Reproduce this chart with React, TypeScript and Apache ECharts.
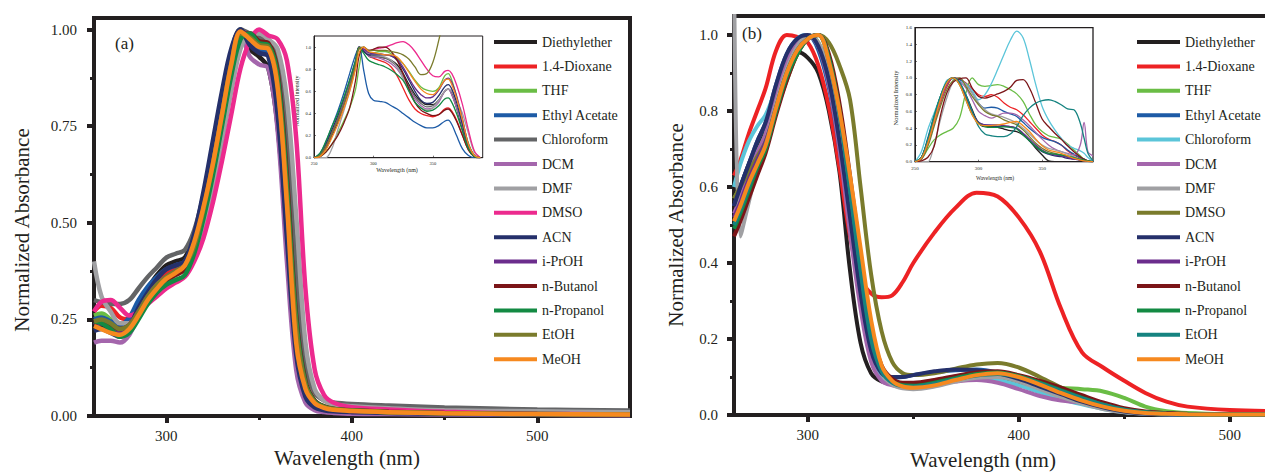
import React, { useEffect, useRef } from 'react';
import * as echarts from 'echarts';

const INK = '#231f20';
const SERIF = '"Liberation Serif", "Times New Roman", serif';

const SOLVENTS = ['Diethylether', '1.4-Dioxane', 'THF', 'Ethyl Acetate', 'Chloroform', 'DCM', 'DMF', 'DMSO', 'ACN', 'i-PrOH', 'n-Butanol', 'n-Propanol', 'EtOH', 'MeOH'];
const COLORS_A = ['#231f20', '#ed2224', '#6abd45', '#1d5ba6', '#636466', '#a466ac', '#a0a0a3', '#ec2a8e', '#25306b', '#6b2d8c', '#7b1518', '#138a43', '#7a7b2c', '#f6891f'];
const COLORS_B = ['#231f20', '#ed2224', '#6abd45', '#1d5ba6', '#5bc5d9', '#a466ac', '#a0a0a3', '#7a7b2c', '#25306b', '#6b2d8c', '#7b1518', '#138a43', '#158380', '#f6891f'];

// Panel (a) main: wavelength (nm)
const X_A = [261, 265, 270, 275, 280, 285, 290, 295, 300, 305, 310, 315, 320, 325, 330, 335, 340, 345, 350, 355, 360, 365, 370, 375, 380, 385, 390, 400, 420, 450, 500, 550];
const A_DIETHYLETHER = [0.235, 0.235, 0.225, 0.22, 0.24, 0.29, 0.33, 0.365, 0.39, 0.40, 0.41, 0.47, 0.57, 0.69, 0.82, 0.94, 1.0, 0.95, 0.93, 0.90, 0.75, 0.45, 0.16, 0.05, 0.025, 0.018, 0.015, 0.012, 0.009, 0.006, 0.004, 0.003];
const A_DIOXANE = [0.27, 0.285, 0.28, 0.255, 0.25, 0.28, 0.32, 0.345, 0.37, 0.385, 0.395, 0.44, 0.53, 0.65, 0.78, 0.91, 0.99, 0.98, 0.96, 0.955, 0.87, 0.58, 0.24, 0.08, 0.035, 0.022, 0.017, 0.013, 0.01, 0.007, 0.005, 0.004];
const A_THF = [0.26, 0.265, 0.25, 0.23, 0.235, 0.265, 0.30, 0.33, 0.35, 0.365, 0.38, 0.43, 0.52, 0.63, 0.76, 0.89, 0.98, 0.99, 0.965, 0.96, 0.88, 0.60, 0.25, 0.085, 0.04, 0.025, 0.02, 0.015, 0.011, 0.008, 0.005, 0.004];
const A_ETHYLACETATE = [0.25, 0.255, 0.245, 0.235, 0.255, 0.30, 0.335, 0.36, 0.38, 0.39, 0.40, 0.46, 0.56, 0.68, 0.81, 0.93, 1.0, 0.97, 0.95, 0.94, 0.80, 0.49, 0.18, 0.06, 0.028, 0.019, 0.015, 0.012, 0.009, 0.006, 0.004, 0.003];
const A_CHLOROFORM = [0.30, 0.295, 0.29, 0.29, 0.30, 0.33, 0.36, 0.385, 0.41, 0.42, 0.43, 0.48, 0.57, 0.69, 0.82, 0.94, 1.0, 0.99, 0.98, 0.97, 0.92, 0.72, 0.38, 0.13, 0.06, 0.04, 0.035, 0.031, 0.027, 0.022, 0.017, 0.014];
const A_DCM = [0.19, 0.195, 0.195, 0.19, 0.21, 0.26, 0.30, 0.33, 0.355, 0.37, 0.385, 0.44, 0.54, 0.66, 0.79, 0.92, 0.99, 0.93, 0.91, 0.90, 0.74, 0.40, 0.12, 0.035, 0.015, 0.01, 0.008, 0.006, 0.005, 0.004, 0.003, 0.002];
const A_DMF = [0.40, 0.31, 0.27, 0.24, 0.24, 0.27, 0.30, 0.33, 0.35, 0.365, 0.38, 0.42, 0.49, 0.59, 0.71, 0.84, 0.95, 0.99, 0.99, 0.975, 0.95, 0.82, 0.52, 0.19, 0.07, 0.04, 0.03, 0.025, 0.02, 0.015, 0.012, 0.01];
const A_DMSO = [0.27, 0.295, 0.30, 0.28, 0.26, 0.27, 0.29, 0.31, 0.33, 0.345, 0.36, 0.40, 0.46, 0.55, 0.66, 0.78, 0.90, 0.97, 1.0, 0.985, 0.975, 0.92, 0.72, 0.33, 0.12, 0.055, 0.035, 0.023, 0.017, 0.011, 0.006, 0.004];
const A_ACN = [0.22, 0.225, 0.215, 0.205, 0.23, 0.28, 0.32, 0.355, 0.38, 0.39, 0.40, 0.47, 0.58, 0.71, 0.84, 0.95, 1.0, 0.96, 0.94, 0.93, 0.78, 0.46, 0.16, 0.05, 0.022, 0.015, 0.012, 0.01, 0.008, 0.005, 0.004, 0.003];
const A_IPROH = [0.235, 0.24, 0.23, 0.22, 0.235, 0.27, 0.31, 0.34, 0.36, 0.375, 0.39, 0.44, 0.53, 0.645, 0.775, 0.905, 0.99, 0.985, 0.96, 0.955, 0.86, 0.56, 0.22, 0.075, 0.035, 0.022, 0.017, 0.013, 0.01, 0.007, 0.005, 0.004];
const A_NBUTANOL = [0.24, 0.245, 0.235, 0.225, 0.235, 0.265, 0.30, 0.33, 0.35, 0.365, 0.38, 0.43, 0.52, 0.63, 0.76, 0.89, 0.98, 0.99, 0.97, 0.965, 0.89, 0.62, 0.26, 0.09, 0.04, 0.025, 0.019, 0.015, 0.011, 0.008, 0.005, 0.004];
const A_NPROPANOL = [0.245, 0.24, 0.225, 0.205, 0.215, 0.25, 0.29, 0.32, 0.34, 0.352, 0.365, 0.42, 0.51, 0.62, 0.75, 0.88, 0.975, 0.99, 0.965, 0.96, 0.88, 0.60, 0.25, 0.085, 0.038, 0.024, 0.018, 0.014, 0.01, 0.007, 0.005, 0.004];
const A_ETOH = [0.245, 0.25, 0.24, 0.225, 0.235, 0.27, 0.31, 0.34, 0.36, 0.375, 0.39, 0.44, 0.535, 0.65, 0.78, 0.91, 0.99, 0.98, 0.96, 0.955, 0.86, 0.57, 0.23, 0.08, 0.036, 0.023, 0.018, 0.014, 0.01, 0.007, 0.005, 0.004];
const A_MEOH = [0.233, 0.225, 0.215, 0.21, 0.225, 0.26, 0.30, 0.33, 0.355, 0.37, 0.39, 0.45, 0.54, 0.65, 0.78, 0.91, 0.995, 0.975, 0.955, 0.95, 0.85, 0.55, 0.19, 0.07, 0.033, 0.021, 0.016, 0.013, 0.01, 0.007, 0.005, 0.004];

// Panel (b) main
const X_B = [265, 268, 272, 276, 280, 285, 290, 295, 300, 305, 310, 315, 320, 325, 330, 335, 340, 345, 350, 360, 370, 380, 390, 400, 410, 420, 430, 440, 450, 460, 470, 480, 500, 530];
const B_DIETHYLETHER = [0.55, 0.6, 0.66, 0.71, 0.76, 0.85, 0.92, 0.955, 0.94, 0.9, 0.8, 0.64, 0.38, 0.19, 0.11, 0.088, 0.082, 0.08, 0.082, 0.09, 0.098, 0.1, 0.095, 0.08, 0.062, 0.045, 0.03, 0.018, 0.008, 0.004, 0.002, 0.001, 0.001, 0];
const B_DIOXANE = [0.63, 0.67, 0.74, 0.8, 0.86, 0.96, 1.0, 0.995, 0.98, 0.92, 0.81, 0.65, 0.47, 0.36, 0.32, 0.31, 0.315, 0.35, 0.4, 0.48, 0.545, 0.585, 0.575, 0.52, 0.43, 0.28, 0.165, 0.125, 0.09, 0.058, 0.035, 0.022, 0.013, 0.01];
const B_THF = [0.57, 0.6, 0.64, 0.69, 0.74, 0.83, 0.91, 0.97, 1.0, 0.98, 0.9, 0.74, 0.56, 0.36, 0.2, 0.12, 0.09, 0.08, 0.08, 0.085, 0.095, 0.1, 0.1, 0.09, 0.08, 0.072, 0.068, 0.062, 0.045, 0.022, 0.01, 0.005, 0.002, 0.001];
const B_ETHYLACETATE = [0.55, 0.6, 0.66, 0.72, 0.77, 0.87, 0.95, 0.99, 1.0, 0.96, 0.86, 0.7, 0.5, 0.31, 0.17, 0.11, 0.098, 0.1, 0.105, 0.112, 0.118, 0.12, 0.112, 0.095, 0.072, 0.05, 0.032, 0.018, 0.008, 0.004, 0.002, 0.001, 0.001, 0];
const B_CHLOROFORM = [0.6, 0.66, 0.72, 0.76, 0.79, 0.86, 0.94, 0.99, 1.0, 0.97, 0.88, 0.72, 0.52, 0.32, 0.17, 0.1, 0.085, 0.082, 0.082, 0.088, 0.095, 0.098, 0.092, 0.078, 0.06, 0.042, 0.028, 0.016, 0.008, 0.004, 0.002, 0.001, 0.001, 0];
const B_DCM = [0.53, 0.57, 0.63, 0.69, 0.74, 0.84, 0.93, 0.98, 1.0, 0.97, 0.87, 0.7, 0.48, 0.28, 0.14, 0.09, 0.078, 0.075, 0.075, 0.08, 0.088, 0.092, 0.085, 0.068, 0.05, 0.038, 0.032, 0.02, 0.01, 0.005, 0.003, 0.002, 0.001, 0.001];
const B_DMF = [1.2, 0.47, 0.56, 0.65, 0.72, 0.82, 0.91, 0.97, 1.0, 0.98, 0.91, 0.76, 0.57, 0.37, 0.2, 0.11, 0.08, 0.07, 0.068, 0.075, 0.088, 0.098, 0.1, 0.088, 0.068, 0.048, 0.03, 0.016, 0.007, 0.003, 0.002, 0.001, 0.001, 0];
const B_DMSO = [0.57, 0.6, 0.64, 0.68, 0.72, 0.8, 0.88, 0.95, 0.99, 1.0, 0.98, 0.92, 0.83, 0.6, 0.37, 0.22, 0.14, 0.11, 0.105, 0.11, 0.122, 0.133, 0.137, 0.125, 0.1, 0.072, 0.045, 0.024, 0.011, 0.005, 0.003, 0.002, 0.001, 0.001];
const B_ACN = [0.55, 0.6, 0.66, 0.72, 0.77, 0.87, 0.95, 0.99, 1.0, 0.97, 0.88, 0.72, 0.52, 0.32, 0.17, 0.11, 0.1, 0.1, 0.105, 0.115, 0.12, 0.118, 0.11, 0.095, 0.075, 0.055, 0.035, 0.02, 0.009, 0.004, 0.002, 0.001, 0.001, 0];
const B_IPROH = [0.52, 0.56, 0.62, 0.67, 0.72, 0.81, 0.9, 0.96, 0.99, 1.0, 0.94, 0.8, 0.6, 0.39, 0.21, 0.12, 0.09, 0.082, 0.082, 0.09, 0.1, 0.11, 0.112, 0.102, 0.085, 0.066, 0.046, 0.028, 0.015, 0.008, 0.004, 0.002, 0.001, 0.001];
const B_NBUTANOL = [0.47, 0.51, 0.57, 0.63, 0.69, 0.79, 0.88, 0.95, 0.99, 1.0, 0.95, 0.82, 0.63, 0.42, 0.23, 0.13, 0.095, 0.085, 0.085, 0.092, 0.103, 0.112, 0.115, 0.105, 0.09, 0.072, 0.052, 0.033, 0.018, 0.009, 0.005, 0.003, 0.002, 0.001];
const B_NPROPANOL = [0.49, 0.53, 0.59, 0.65, 0.7, 0.8, 0.89, 0.95, 0.99, 1.0, 0.94, 0.8, 0.6, 0.39, 0.21, 0.12, 0.088, 0.078, 0.077, 0.085, 0.097, 0.108, 0.112, 0.102, 0.085, 0.065, 0.045, 0.027, 0.014, 0.007, 0.003, 0.002, 0.001, 0.001];
const B_ETOH = [0.5, 0.54, 0.6, 0.66, 0.71, 0.81, 0.9, 0.96, 0.99, 1.0, 0.93, 0.79, 0.59, 0.38, 0.2, 0.115, 0.085, 0.076, 0.075, 0.082, 0.094, 0.104, 0.108, 0.1, 0.083, 0.063, 0.044, 0.027, 0.014, 0.007, 0.003, 0.002, 0.001, 0.001];
const B_MEOH = [0.51, 0.55, 0.61, 0.66, 0.71, 0.81, 0.9, 0.96, 0.99, 1.0, 0.93, 0.8, 0.63, 0.44, 0.25, 0.13, 0.09, 0.075, 0.072, 0.078, 0.092, 0.105, 0.11, 0.1, 0.08, 0.058, 0.038, 0.022, 0.011, 0.005, 0.003, 0.002, 0.001, 0.001];

// Inset (a): normalized intensity
const X_IA = [250, 255, 260, 265, 270, 275, 280, 285, 288, 292, 296, 300, 305, 310, 315, 320, 325, 330, 335, 340, 345, 350, 355, 360, 363, 366, 370, 375, 380, 385, 390];
const IA_DIETHYLETHER = [0, 0.01, 0.08, 0.2, 0.32, 0.47, 0.65, 0.85, 1.0, 0.96, 0.93, 0.92, 0.91, 0.9, 0.88, 0.84, 0.76, 0.66, 0.57, 0.51, 0.48, 0.48, 0.52, 0.6, 0.62, 0.58, 0.45, 0.25, 0.08, 0.01, 0];
const IA_DIOXANE = [0, 0.02, 0.1, 0.22, 0.34, 0.48, 0.64, 0.83, 0.99, 0.97, 0.92, 0.9, 0.88, 0.86, 0.82, 0.74, 0.63, 0.52, 0.44, 0.4, 0.38, 0.37, 0.39, 0.44, 0.45, 0.42, 0.34, 0.2, 0.07, 0.01, 0];
const IA_THF = [0, 0.01, 0.05, 0.12, 0.22, 0.33, 0.45, 0.62, 0.82, 1.0, 0.96, 0.95, 0.96, 0.96, 0.94, 0.9, 0.85, 0.78, 0.7, 0.64, 0.61, 0.6, 0.63, 0.74, 0.76, 0.7, 0.55, 0.33, 0.13, 0.02, 0];
const IA_ETHYLACETATE = [0, 0.04, 0.14, 0.28, 0.42, 0.58, 0.76, 0.93, 1.0, 0.78, 0.58, 0.52, 0.51, 0.5, 0.47, 0.44, 0.4, 0.36, 0.32, 0.29, 0.27, 0.27, 0.29, 0.33, 0.34, 0.3, 0.2, 0.08, 0.02, 0, 0];
const IA_CHLOROFORM = [0, 0.02, 0.1, 0.22, 0.35, 0.5, 0.66, 0.85, 1.0, 0.97, 0.92, 0.91, 0.91, 0.9, 0.87, 0.82, 0.74, 0.64, 0.55, 0.49, 0.46, 0.47, 0.52, 0.6, 0.62, 0.57, 0.46, 0.3, 0.12, 0.02, 0];
const IA_DCM = [0, 0.02, 0.1, 0.22, 0.35, 0.5, 0.66, 0.85, 1.0, 0.97, 0.92, 0.91, 0.9, 0.88, 0.85, 0.8, 0.72, 0.62, 0.53, 0.47, 0.44, 0.45, 0.5, 0.6, 0.62, 0.57, 0.45, 0.28, 0.1, 0.02, 0];
const IA_DMF = [0, 0, 0, 0.08, 0.25, 0.42, 0.6, 0.82, 0.98, 0.98, 0.94, 0.92, 0.92, 0.91, 0.88, 0.82, 0.72, 0.6, 0.5, 0.45, 0.43, 0.45, 0.52, 0.6, 0.62, 0.6, 0.52, 0.4, 0.22, 0.05, 0];
const IA_DMSO = [0, 0.02, 0.1, 0.22, 0.34, 0.48, 0.64, 0.84, 1.0, 0.98, 0.97, 0.98, 0.99, 1.0, 1.02, 1.04, 1.05, 1.02, 0.96, 0.88, 0.8, 0.74, 0.73, 0.78, 0.79, 0.76, 0.66, 0.48, 0.25, 0.06, 0];
const IA_ACN = [0, 0.02, 0.12, 0.25, 0.38, 0.53, 0.7, 0.88, 1.0, 0.96, 0.93, 0.93, 0.93, 0.93, 0.92, 0.88, 0.8, 0.7, 0.6, 0.52, 0.49, 0.5, 0.56, 0.64, 0.66, 0.62, 0.5, 0.3, 0.1, 0.01, 0];
const IA_IPROH = [0, 0.02, 0.1, 0.22, 0.34, 0.48, 0.64, 0.84, 1.0, 0.98, 0.95, 0.94, 0.94, 0.93, 0.92, 0.89, 0.82, 0.72, 0.63, 0.57, 0.54, 0.55, 0.61, 0.7, 0.72, 0.68, 0.56, 0.35, 0.12, 0.02, 0];
const IA_NBUTANOL = [0, 0.01, 0.05, 0.12, 0.2, 0.31, 0.45, 0.7, 0.92, 1.0, 0.97, 0.98, 1.0, 1.0, 0.96, 0.88, 0.76, 0.62, 0.5, 0.43, 0.4, 0.38, 0.39, 0.43, 0.44, 0.41, 0.33, 0.2, 0.07, 0.01, 0];
const IA_NPROPANOL = [0, 0.04, 0.15, 0.28, 0.4, 0.54, 0.7, 0.88, 1.0, 0.94, 0.88, 0.86, 0.84, 0.82, 0.79, 0.75, 0.7, 0.6, 0.5, 0.45, 0.42, 0.43, 0.47, 0.53, 0.54, 0.5, 0.4, 0.24, 0.08, 0.01, 0];
const IA_ETOH = [0, 0.02, 0.1, 0.22, 0.34, 0.48, 0.64, 0.84, 0.99, 1.0, 0.97, 0.97, 0.97, 0.97, 0.96, 0.95, 0.93, 0.89, 0.82, 0.75, 0.76, 0.86, 1.06, 1.3, 1.45, 1.6, 1.8, 2.0, 2.2, 2.4, 2.6];
const IA_MEOH = [0, 0.01, 0.07, 0.18, 0.3, 0.44, 0.6, 0.8, 0.95, 1.0, 0.96, 0.95, 0.94, 0.93, 0.93, 0.91, 0.85, 0.77, 0.69, 0.62, 0.58, 0.57, 0.62, 0.7, 0.71, 0.66, 0.54, 0.34, 0.12, 0.02, 0];

// Inset (b)
const X_IB = [250, 255, 260, 265, 270, 275, 280, 285, 290, 295, 300, 305, 310, 315, 320, 325, 330, 335, 340, 345, 350, 355, 360, 365, 370, 375, 380, 383, 386, 390];
const IB_DIETHYLETHER = [0, 0.05, 0.25, 0.5, 0.72, 0.9, 1.0, 0.93, 0.8, 0.62, 0.46, 0.42, 0.42, 0.41, 0.39, 0.37, 0.36, 0.32, 0.25, 0.16, 0.08, 0.01, 0, 0, 0, 0, 0, 0, 0, 0];
const IB_DIOXANE = [0, 0.04, 0.22, 0.46, 0.7, 0.9, 1.0, 0.99, 0.94, 0.87, 0.8, 0.78, 0.8, 0.77, 0.7, 0.65, 0.62, 0.56, 0.48, 0.4, 0.32, 0.27, 0.24, 0.2, 0.13, 0.08, 0.04, 0.02, 0.01, 0];
const IB_THF = [0, 0.03, 0.15, 0.26, 0.32, 0.36, 0.4, 0.52, 0.82, 1.0, 0.92, 0.9, 0.91, 0.92, 0.9, 0.86, 0.81, 0.72, 0.57, 0.44, 0.36, 0.31, 0.29, 0.27, 0.21, 0.14, 0.07, 0.03, 0.01, 0];
const IB_ETHYLACETATE = [0, 0.05, 0.28, 0.55, 0.78, 0.95, 1.0, 0.98, 0.93, 0.82, 0.7, 0.64, 0.65, 0.64, 0.6, 0.57, 0.54, 0.47, 0.4, 0.34, 0.29, 0.26, 0.24, 0.2, 0.14, 0.09, 0.05, 0.03, 0.01, 0];
const IB_CHLOROFORM = [0, 0.12, 0.38, 0.58, 0.78, 0.97, 0.99, 0.96, 0.93, 0.85, 0.74, 0.8, 0.93, 1.1, 1.28, 1.45, 1.56, 1.48, 1.22, 0.92, 0.66, 0.5, 0.38, 0.28, 0.2, 0.16, 0.13, 0.1, 0.05, 0];
const IB_DCM = [0, 0.04, 0.22, 0.48, 0.72, 0.92, 1.0, 0.96, 0.88, 0.74, 0.6, 0.55, 0.52, 0.55, 0.58, 0.58, 0.56, 0.5, 0.43, 0.35, 0.27, 0.2, 0.15, 0.12, 0.1, 0.08, 0.2, 0.47, 0.12, 0.07];
const IB_DMF = [0, 0, 0, 0.2, 0.5, 0.76, 0.95, 1.0, 0.92, 0.82, 0.7, 0.62, 0.57, 0.55, 0.53, 0.5, 0.46, 0.4, 0.33, 0.26, 0.2, 0.16, 0.14, 0.12, 0.09, 0.06, 0.03, 0.02, 0.01, 0];
const IB_DMSO = [0, 0.03, 0.18, 0.42, 0.66, 0.86, 0.97, 1.0, 0.9, 0.78, 0.68, 0.6, 0.56, 0.54, 0.5, 0.47, 0.44, 0.38, 0.3, 0.22, 0.16, 0.12, 0.1, 0.08, 0.06, 0.04, 0.02, 0.01, 0.005, 0];
const IB_ACN = [0, 0.04, 0.25, 0.52, 0.76, 0.94, 1.0, 0.94, 0.78, 0.6, 0.47, 0.44, 0.43, 0.42, 0.42, 0.42, 0.4, 0.33, 0.25, 0.18, 0.12, 0.09, 0.07, 0.06, 0.04, 0.03, 0.02, 0.01, 0.005, 0];
const IB_IPROH = [0, 0.04, 0.24, 0.5, 0.74, 0.93, 1.0, 0.94, 0.76, 0.58, 0.47, 0.44, 0.44, 0.44, 0.43, 0.42, 0.4, 0.34, 0.27, 0.2, 0.14, 0.1, 0.08, 0.07, 0.05, 0.03, 0.02, 0.01, 0.005, 0];
const IB_NBUTANOL = [0, 0.01, 0.05, 0.18, 0.55, 0.82, 0.95, 0.99, 1.0, 0.88, 0.78, 0.76, 0.78, 0.81, 0.84, 0.89, 0.97, 0.98, 0.88, 0.7, 0.51, 0.42, 0.34, 0.27, 0.19, 0.12, 0.06, 0.03, 0.01, 0];
const IB_NPROPANOL = [0, 0.05, 0.26, 0.54, 0.78, 0.95, 1.0, 0.92, 0.74, 0.56, 0.46, 0.42, 0.41, 0.41, 0.42, 0.41, 0.39, 0.32, 0.25, 0.18, 0.13, 0.1, 0.09, 0.08, 0.07, 0.05, 0.03, 0.02, 0.01, 0];
const IB_ETOH = [0, 0.05, 0.26, 0.54, 0.78, 0.95, 1.0, 0.95, 0.8, 0.6, 0.42, 0.33, 0.31, 0.3, 0.3, 0.33, 0.42, 0.55, 0.64, 0.7, 0.73, 0.74, 0.72, 0.68, 0.63, 0.62, 0.46, 0.28, 0.1, 0.01];
const IB_MEOH = [0, 0.04, 0.22, 0.48, 0.74, 0.94, 1.0, 0.92, 0.74, 0.56, 0.45, 0.43, 0.43, 0.44, 0.45, 0.47, 0.48, 0.43, 0.36, 0.27, 0.19, 0.14, 0.12, 0.1, 0.07, 0.04, 0.02, 0.01, 0.005, 0];

// Tick values
const A_XTICKS = [300, 400, 500];
const A_XMINOR = [350, 450];
const A_YTICKS = [0, 0.25, 0.5, 0.75, 1.0];
const A_YMINOR = [0.125, 0.375, 0.625, 0.875];
const B_XTICKS = [300, 400, 500];
const B_XMINOR = [350, 450];
const B_YTICKS = [0, 0.2, 0.4, 0.6, 0.8, 1.0];
const B_YMINOR = [0.1, 0.3, 0.5, 0.7, 0.9];
const IA_XTICKS = [250, 300, 350];
const IA_YTICKS = [0, 0.2, 0.4, 0.6, 0.8, 1.0];
const IB_XTICKS = [250, 300, 350];
const IB_YTICKS = [0, 0.2, 0.4, 0.6, 0.8, 1.0, 1.2, 1.4, 1.6];

const ROWS_A = [A_DIETHYLETHER, A_DIOXANE, A_THF, A_ETHYLACETATE, A_CHLOROFORM, A_DCM, A_DMF, A_DMSO, A_ACN, A_IPROH, A_NBUTANOL, A_NPROPANOL, A_ETOH, A_MEOH];
const ROWS_B = [B_DIETHYLETHER, B_DIOXANE, B_THF, B_ETHYLACETATE, B_CHLOROFORM, B_DCM, B_DMF, B_DMSO, B_ACN, B_IPROH, B_NBUTANOL, B_NPROPANOL, B_ETOH, B_MEOH];
const ROWS_IA = [IA_DIETHYLETHER, IA_DIOXANE, IA_THF, IA_ETHYLACETATE, IA_CHLOROFORM, IA_DCM, IA_DMF, IA_DMSO, IA_ACN, IA_IPROH, IA_NBUTANOL, IA_NPROPANOL, IA_ETOH, IA_MEOH];
const ROWS_IB = [IB_DIETHYLETHER, IB_DIOXANE, IB_THF, IB_ETHYLACETATE, IB_CHLOROFORM, IB_DCM, IB_DMF, IB_DMSO, IB_ACN, IB_IPROH, IB_NBUTANOL, IB_NPROPANOL, IB_ETOH, IB_MEOH];

function makeSeries(xs: number[], rows: number[][], colors: string[], axis: number, width: number, smooth: number) {
  return rows.map((ys, i) => ({
    type: 'line',
    name: SOLVENTS[i],
    xAxisIndex: axis,
    yAxisIndex: axis,
    data: xs.map((x, j) => [x, ys[j]]),
    smooth,
    showSymbol: false,
    symbol: 'none',
    clip: true,
    silent: true,
    lineStyle: { color: colors[i], width },
    itemStyle: { color: colors[i] },
  }));
}

function mainX(grid: number, min: number, max: number, ticks: number[]) {
  return {
    type: 'value', gridIndex: grid, min, max, position: 'bottom',
    axisLine: { show: true, onZero: false, lineStyle: { color: INK, width: 4 } },
    axisTick: { show: true, customValues: ticks, length: 7, lineStyle: { color: INK, width: 4 } },
    axisLabel: { show: true, customValues: ticks, fontFamily: SERIF, fontSize: 15, color: INK, margin: 12 },
    splitLine: { show: false },
  };
}
function minorX(grid: number, min: number, max: number, ticks: number[]) {
  return {
    type: 'value', gridIndex: grid, min, max, position: 'bottom',
    axisLine: { show: false, onZero: false },
    axisTick: { show: true, customValues: ticks, length: 4, lineStyle: { color: INK, width: 3 } },
    axisLabel: { show: false },
    splitLine: { show: false },
  };
}
function mainY(grid: number, max: number, ticks: number[], digits: number, margin: number) {
  return {
    type: 'value', gridIndex: grid, min: 0, max, position: 'left',
    axisLine: { show: true, onZero: false, lineStyle: { color: INK, width: 4 } },
    axisTick: { show: true, customValues: ticks, length: 7, lineStyle: { color: INK, width: 4 } },
    axisLabel: { show: true, customValues: ticks, fontFamily: SERIF, fontSize: 15, color: INK, margin, formatter: (v: number) => v.toFixed(digits) },
    splitLine: { show: false },
  };
}
function minorY(grid: number, max: number, ticks: number[]) {
  return {
    type: 'value', gridIndex: grid, min: 0, max, position: 'left',
    axisLine: { show: false, onZero: false },
    axisTick: { show: true, customValues: ticks, length: 4, lineStyle: { color: INK, width: 3 } },
    axisLabel: { show: false },
    splitLine: { show: false },
  };
}
function insetX(grid: number, min: number, max: number, ticks: number[], fs: number, margin: number) {
  return {
    type: 'value', gridIndex: grid, min, max, position: 'bottom',
    axisLine: { show: true, onZero: false, lineStyle: { color: INK, width: 1 } },
    axisTick: { show: true, inside: true, customValues: ticks, length: 2, lineStyle: { color: INK, width: 0.6 } },
    axisLabel: { show: true, customValues: ticks, fontFamily: SERIF, fontSize: fs, color: INK, margin },
    splitLine: { show: false },
  };
}
function insetY(grid: number, max: number, ticks: number[], fs: number) {
  return {
    type: 'value', gridIndex: grid, min: 0, max, position: 'left',
    axisLine: { show: true, onZero: false, lineStyle: { color: INK, width: 1 } },
    axisTick: { show: true, inside: true, customValues: ticks, length: 2, lineStyle: { color: INK, width: 0.6 } },
    axisLabel: { show: true, customValues: ticks, fontFamily: SERIF, fontSize: fs, color: INK, margin: 3, formatter: (v: number) => v.toFixed(1) },
    splitLine: { show: false },
  };
}

function legendFor(left: number, colors: string[]) {
  return {
    orient: 'vertical', left, top: 35, itemWidth: 43, itemHeight: 4, itemGap: 10.4, icon: 'rect',
    selectedMode: false, padding: 0,
    textStyle: { fontFamily: SERIF, fontSize: 14, color: INK },
    data: SOLVENTS.map((n, i) => ({ name: n, icon: 'rect', itemStyle: { color: colors[i], borderWidth: 0 } })),
  };
}

function txt(text: string, x: number, y: number, size: number, rotate = false, align = 'center') {
  return {
    type: 'text', x, y, rotation: rotate ? Math.PI / 2 : 0, silent: true,
    style: { text, fontFamily: SERIF, fontSize: size, fill: INK, align, verticalAlign: 'middle' },
  };
}

export default function App() {
  const ref = useRef<HTMLDivElement>(null);
  useEffect(() => {
    if (!ref.current) return;
    const chart = echarts.init(ref.current, undefined, { renderer: 'svg' });
    const gridBase = { containLabel: false, outerBoundsMode: 'none', show: true, borderColor: INK };
    chart.setOption({
      animation: false,
      backgroundColor: '#ffffff',
      grid: [
        { ...gridBase, left: 94, top: 18, width: 536, height: 398, borderWidth: 4 },
        { ...gridBase, left: 734, top: 16, width: 559, height: 399, borderWidth: 4 },
        { ...gridBase, left: 314, top: 36, width: 168.7, height: 121.7, borderWidth: 1, backgroundColor: '#ffffff' },
        { ...gridBase, left: 915, top: 27.7, width: 178, height: 134, borderWidth: 1.3, backgroundColor: '#ffffff' },
      ],
      xAxis: [
        mainX(0, 261, 550, A_XTICKS),
        mainX(1, 265, 530, B_XTICKS),
        insetX(2, 250, 392, IA_XTICKS, 4.5, 3),
        insetX(3, 250, 390, IB_XTICKS, 5, 4),
        minorX(0, 261, 550, A_XMINOR),
        minorX(1, 265, 530, B_XMINOR),
      ],
      yAxis: [
        mainY(0, 1.03, A_YTICKS, 2, 17),
        mainY(1, 1.05, B_YTICKS, 1, 16),
        insetY(2, 1.1, IA_YTICKS, 4.5),
        insetY(3, 1.6, IB_YTICKS, 5),
        minorY(0, 1.03, A_YMINOR),
        minorY(1, 1.05, B_YMINOR),
      ],
      legend: [legendFor(494, COLORS_A), legendFor(1137, COLORS_B)],
      graphic: [
        txt('(a)', 115, 43, 17, false, 'left'),
        txt('(b)', 742, 33, 17, false, 'left'),
        txt('Normalized Absorbance', 22, 230, 21, true),
        txt('Normalized Absorbance', 676, 225, 21, true),
        txt('Wavelength (nm)', 347, 458, 21),
        txt('Wavelength (nm)', 983, 460, 21),
        txt('Normalized Intensity', 297, 101, 6, true),
        txt('Wavelength (nm)', 397, 170, 6),
        txt('Normalized Intensity', 895, 98, 6.5, true),
        txt('Wavelength (nm)', 995, 177.5, 5.5),
      ],
      series: [
        ...makeSeries(X_A, ROWS_A, COLORS_A, 0, 4.5, 0.35),
        ...makeSeries(X_B, ROWS_B, COLORS_B, 1, 4, 0.35),
        ...makeSeries(X_IA, ROWS_IA, COLORS_A, 2, 1.3, 0.35),
        ...makeSeries(X_IB, ROWS_IB, COLORS_B, 3, 1.3, 0.35),
      ],
    });
    return () => chart.dispose();
  }, []);
  return <div ref={ref} style={{ position: 'absolute', left: 0, top: 0, width: 1265, height: 472, background: '#fff' }} />;
}
